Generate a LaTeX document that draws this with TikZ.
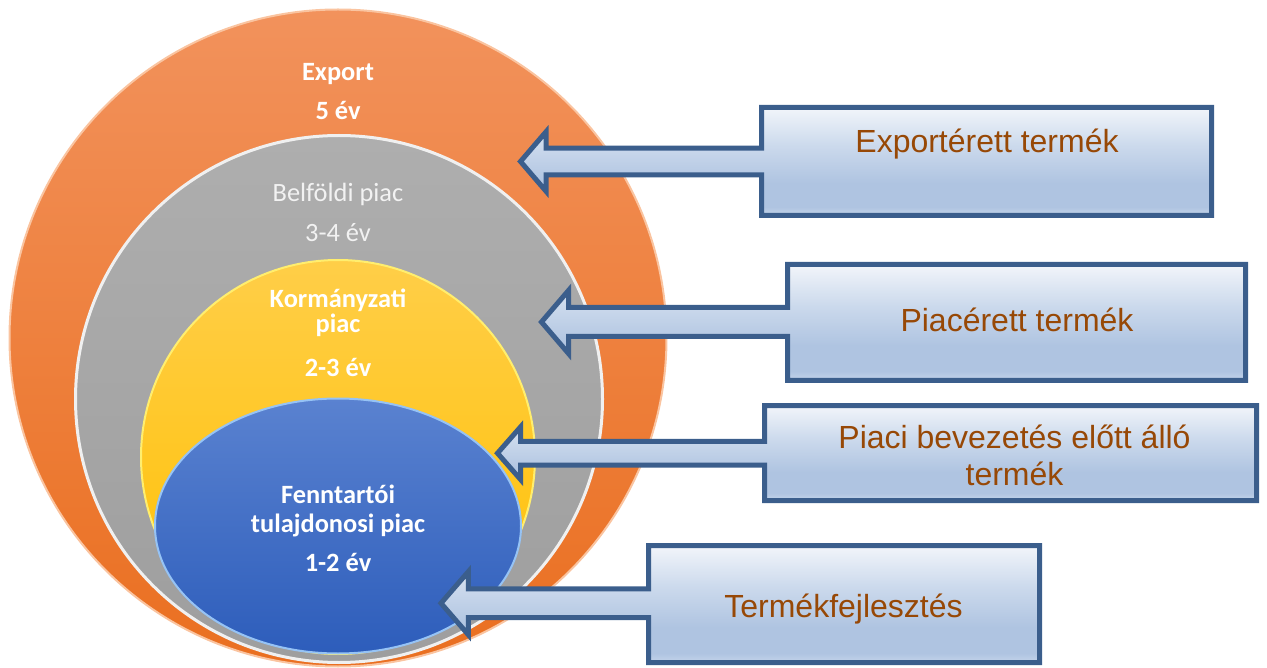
\documentclass[tikz,border=0pt]{standalone}
\usepackage{fontspec}
\setmainfont{Liberation Sans}
\newfontfamily\calib{Carlito}
\usetikzlibrary{shapes.geometric,calc}
\definecolor{bxline}{RGB}{59,94,140}
\definecolor{brownt}{RGB}{151,72,6}
\definecolor{bxtop}{RGB}{242,245,250}
\definecolor{bxmid}{RGB}{203,217,236}
\definecolor{bxlow}{RGB}{175,196,225}
\definecolor{bxbot}{RGB}{196,212,234}
\definecolor{orTop}{RGB}{242,146,92}
\definecolor{orBot}{RGB}{234,111,32}
\definecolor{orRim}{RGB}{250,196,160}
\definecolor{grTop}{RGB}{174,174,174}
\definecolor{grBot}{RGB}{158,158,158}
\definecolor{yeTop}{RGB}{255,206,72}
\definecolor{yeBot}{RGB}{255,192,0}
\definecolor{yeRim}{RGB}{255,238,110}
\definecolor{blTop}{RGB}{90,130,208}
\definecolor{blBot}{RGB}{45,93,187}
\definecolor{blRim}{RGB}{150,195,245}
\definecolor{belf}{RGB}{242,242,242}
\pgfdeclareverticalshading{boxshade}{100bp}{color(0bp)=(bxbot); color(25bp)=(bxbot); color(29bp)=(bxlow); color(40bp)=(bxlow); color(57bp)=(bxmid); color(75bp)=(bxtop); color(100bp)=(bxtop)}
\tikzset{
  callout/.style={draw=bxline, line width=5pt, shading=boxshade, line join=miter},
  boxframe/.style={inner sep=0pt, outer sep=0pt},
  circtxt/.style={font=\calib\fontsize{26.4}{30}\selectfont\bfseries, text=white, anchor=base, inner sep=0pt},
  circtxtlight/.style={font=\calib\fontsize{26.4}{30}\selectfont, text=belf, anchor=base, inner sep=0pt},
  boxtxt/.style={font=\fontsize{32}{37}\selectfont, text=brownt, inner sep=0pt, align=center}
}
% #1 box node, #2 tip coordinate, #3 shaft half height, #4 head half height, #5 head length
\newcommand\mycallout[5]{%
  \path (#2) ++(#5,-#3) coordinate (#1st)
        (#2) ++(#5,#3)  coordinate (#1sb)
        (#2) ++(#5,-#4) coordinate (#1ht)
        (#2) ++(#5,#4)  coordinate (#1hb);
  \draw[callout] (#1.north west) -- (#1.north east) -- (#1.south east) -- (#1.south west)
    -- (#1.west |- #1sb) -- (#1sb) -- (#1hb) -- (#2) -- (#1ht) -- (#1st)
    -- (#1.west |- #1st) -- cycle;}
\begin{document}
\begin{tikzpicture}[x=1pt,y=-1pt]
\useasboundingbox (0,0) rectangle (1267,668);
% nested markets
\node[circle, minimum size=657pt, inner sep=0pt, top color=orTop, bottom color=orBot, draw=orRim, line width=2pt] (export) at (338,338) {};
\node[circle, minimum size=527pt, inner sep=0pt, top color=grTop, bottom color=grBot, draw=white!88!gray, line width=3pt] (belfold) at (339,399) {};
\node[circle, minimum size=394pt, inner sep=0pt, top color=yeTop, bottom color=yeBot, draw=yeRim, line width=2pt] (korm) at (338,457) {};
\node[ellipse, minimum width=366pt, minimum height=255pt, inner sep=0pt, top color=blTop, bottom color=blBot, draw=blRim, line width=2pt] (fennt) at (338,526) {};
% circle labels
\node[circtxt] (l1a) at (338,81) {Export};
\node[circtxt] (l1b) at (338,120) {5 év};
\node[circtxtlight] (l2a) at (338,201.5) {Belföldi piac};
\node[circtxtlight] (l2b) at (338,242) {3-4 év};
\node[circtxt] (l3a) at (338,307.5) {Kormányzati};
\node[circtxt] (l3b) at (338,333) {piac};
\node[circtxt] (l3c) at (338,377) {2-3 év};
\node[circtxt] (l4a) at (338,503) {Fenntartói};
\node[circtxt] (l4b) at (338,532.5) {tulajdonosi piac};
\node[circtxt] (l4c) at (338,571.5) {1-2 év};
% callout boxes
\node[boxframe, minimum width=450pt, minimum height=108pt] (b1) at (986.5,161.5) {};
\node[boxframe, minimum width=458pt, minimum height=116pt] (b2) at (1016.5,322.5) {};
\node[boxframe, minimum width=492pt, minimum height=95pt] (b3) at (1010.5,453) {};
\node[boxframe, minimum width=391pt, minimum height=117pt] (b4) at (844,604) {};
\coordinate (tip1) at (520.5,161.5);
\coordinate (tip2) at (541.5,322);
\coordinate (tip3) at (497.5,453.2);
\coordinate (tip4) at (441,603.2);
\mycallout{b1}{tip1}{13.3}{29.7}{25.5}
\mycallout{b2}{tip2}{14.5}{31.5}{27}
\mycallout{b3}{tip3}{11.8}{26.2}{23}
\mycallout{b4}{tip4}{14.4}{31.5}{27.3}
% callout texts
\node[boxtxt, anchor=base] (t1) at (987,153) {Exportérett termék};
\node[boxtxt, anchor=base] (t2) at (1017,332) {Piacérett termék};
\node[boxtxt, anchor=center] (t3) at (1014.5,455.5) {Piaci bevezetés előtt álló\\termék};
\node[boxtxt, anchor=base] (t4) at (843.5,617) {Termékfejlesztés};
\end{tikzpicture}
\end{document}
